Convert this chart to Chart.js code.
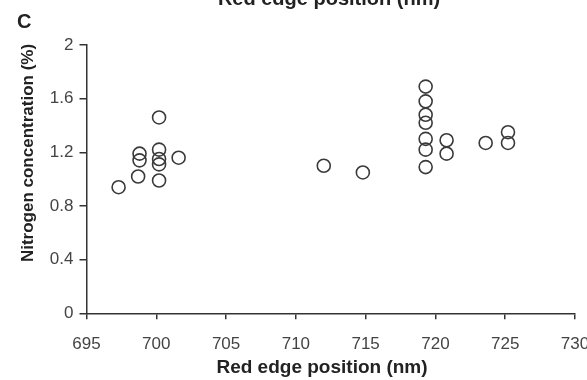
<!DOCTYPE html>
<html>
<head>
<meta charset="utf-8">
<script src="https://cdn.jsdelivr.net/npm/chart.js@4.4.1/dist/chart.umd.min.js"></script>
<style>
  html, body { margin: 0; padding: 0; background: #fff; }
  #wrap { position: relative; width: 587px; height: 380px; }
</style>
</head>
<body>
<div id="wrap"><canvas id="c" width="587" height="380"></canvas></div>
<script>
// Red edge position (nm) of each sample
const redEdge = [
  697.3, 698.7, 698.8, 698.8,
  700.2, 700.2, 700.2, 700.2, 700.2,
  701.6, 712.0, 714.8,
  719.3, 719.3, 719.3, 719.3, 719.3, 719.3, 719.3,
  720.8, 720.8, 723.6, 725.2, 725.2
];
// Nitrogen concentration (%) of each sample
const nitrogen = [
  0.94, 1.02, 1.19, 1.14,
  1.46, 1.22, 1.15, 1.11, 0.99,
  1.16, 1.10, 1.05,
  1.69, 1.58, 1.48, 1.42, 1.30, 1.22, 1.09,
  1.29, 1.19, 1.27, 1.35, 1.27
];
const xTicks = [695, 700, 705, 710, 715, 720, 725, 730];
const yTicks = [0, 0.4, 0.8, 1.2, 1.6, 2];

const points = redEdge.map((x, i) => ({ x: x, y: nitrogen[i] }));

const ink = '#333';
const tickFont = { family: 'Liberation Sans, Arial, sans-serif', size: 17 };

// Panel letter, axis titles and the heading above the panel
const labels = {
  id: 'panelLabels',
  afterDraw(chart) {
    const ctx = chart.ctx;
    ctx.save();
    ctx.fillStyle = '#222';
    ctx.font = 'bold 20px "Liberation Sans", Arial, sans-serif';
    ctx.textAlign = 'left';
    ctx.textBaseline = 'alphabetic';
    ctx.fillText('C', 17, 28);

    ctx.textAlign = 'center';
    ctx.fillText('Red edge position (nm)', 329, 5);
    ctx.font = 'bold 19px "Liberation Sans", Arial, sans-serif';
    ctx.fillText('Red edge position (nm)', 322, 373);

    ctx.font = 'bold 17px "Liberation Sans", Arial, sans-serif';
    ctx.translate(33, 153);
    ctx.rotate(-Math.PI / 2);
    ctx.fillText('Nitrogen concentration (%)', 0, 0);
    ctx.restore();
  }
};

new Chart(document.getElementById('c'), {
  type: 'scatter',
  data: {
    datasets: [{
      data: points,
      pointStyle: 'circle',
      pointRadius: 6.5,
      pointHoverRadius: 6.5,
      pointBorderWidth: 1.6,
      pointBorderColor: '#3a3a3a',
      pointBackgroundColor: 'rgba(255,255,255,0)'
    }]
  },
  options: {
    responsive: false,
    animation: false,
    events: [],
    layout: { padding: { top: 45, right: 12, left: 0, bottom: 0 } },
    plugins: { legend: { display: false }, tooltip: { enabled: false } },
    scales: {
      x: {
        type: 'linear',
        min: xTicks[0],
        max: xTicks[xTicks.length - 1],
        afterBuildTicks: s => { s.ticks = xTicks.map(v => ({ value: v })); },
        afterFit: s => { s.height = 66.7; s.paddingLeft = 0; s.paddingRight = 0; },
        border: { display: true, color: ink, width: 1.5 },
        grid: { display: true, drawOnChartArea: false, drawTicks: true, tickLength: 6, color: ink, lineWidth: 1.5 },
        ticks: { color: '#444', font: tickFont, padding: 15, maxRotation: 0, autoSkip: false }
      },
      y: {
        type: 'linear',
        min: yTicks[0],
        max: yTicks[yTicks.length - 1],
        afterBuildTicks: s => { s.ticks = yTicks.map(v => ({ value: v })); },
        afterFit: s => { s.width = 86.5; s.paddingTop = 0; s.paddingBottom = 0; },
        border: { display: true, color: ink, width: 1.5 },
        grid: { display: true, drawOnChartArea: false, drawTicks: true, tickLength: 7, color: ink, lineWidth: 1.5 },
        ticks: { color: '#444', font: tickFont, padding: 6, callback: v => String(v) }
      }
    }
  },
  plugins: [labels]
});
</script>
</body>
</html>
